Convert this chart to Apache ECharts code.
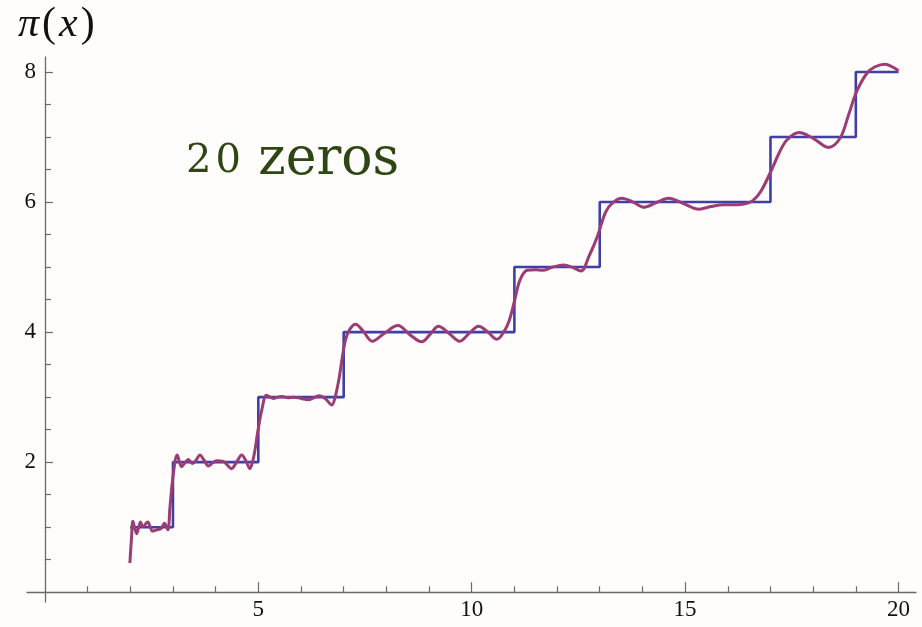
<!DOCTYPE html>
<html>
<head>
<meta charset="utf-8">
<script src="https://cdn.jsdelivr.net/npm/echarts@6/dist/echarts.min.js"></script>
<style>
html,body{margin:0;padding:0;background:#fefdfc;}
#chart{width:922px;height:627px;}
</style>
</head>
<body>
<div id="chart"></div>
<script>
// Step function pi(x): jump points (primes) and counts
const stepX = [2, 3, 5, 7, 11, 13, 17, 19, 20];
const stepY = [1, 2, 3, 4, 5, 6, 7, 8, 8];

// Smooth approximation with 20 zeros
const curveX = [1.99, 2.03, 2.06, 2.10, 2.15, 2.19, 2.24, 2.29, 2.33, 2.37, 2.41, 2.47, 2.52, 2.62, 2.72, 2.80, 2.88, 2.93, 3.01, 3.10,
  3.20, 3.28, 3.36, 3.46, 3.54, 3.63, 3.73, 3.83, 3.93, 4.02, 4.18, 4.28, 4.37, 4.49, 4.61, 4.71, 4.80, 4.87, 4.92, 4.97, 5.00, 5.08,
  5.19, 5.27, 5.35, 5.45, 5.55, 5.70, 5.82, 6.00, 6.17, 6.30, 6.43, 6.58, 6.72, 6.80, 6.89, 6.97, 7.05, 7.15, 7.28,
  7.45, 7.67, 7.95, 8.27, 8.55, 8.83, 9.03, 9.22, 9.47, 9.72, 9.94, 10.16, 10.38, 10.59, 10.75, 10.88, 11.01, 11.13, 11.30,
  11.50, 11.66, 11.90, 12.15, 12.35, 12.56, 12.75, 12.95, 13.14, 13.32, 13.52, 13.78, 14.04, 14.32, 14.61, 14.95, 15.33, 15.60,
  15.90, 16.25, 16.45, 16.60, 16.78, 17.03, 17.20, 17.38, 17.67, 18.00, 18.36, 18.63, 18.83, 19.02, 19.26, 19.45, 19.69, 19.85, 20.00];
const curveY = [0.45, 0.85, 1.09, 1.00, 0.90, 0.98, 1.08, 1.01, 1.02, 1.06, 1.08, 1.00, 0.94, 0.96, 0.98, 1.06, 0.96, 1.31, 1.83, 2.11,
  1.93, 1.99, 2.04, 1.98, 2.03, 2.11, 2.03, 1.94, 1.99, 2.02, 2.01, 1.95, 1.90, 2.00, 2.11, 2.02, 1.90, 2.02, 2.18, 2.40, 2.52, 2.80,
  3.03, 3.00, 2.98, 3.00, 3.01, 2.99, 3.00, 2.98, 2.96, 2.99, 3.02, 2.97, 2.88, 3.00, 3.28, 3.62, 3.90, 4.05, 4.12,
  4.02, 3.86, 3.98, 4.10, 3.96, 3.85, 3.97, 4.09, 3.98, 3.86, 3.98, 4.09, 4.00, 3.89, 4.00, 4.18, 4.50, 4.80, 4.95,
  4.96, 4.95, 5.00, 5.03, 5.00, 4.94, 5.17, 5.48, 5.85, 6.00, 6.06, 6.00, 5.92, 5.99, 6.06, 5.98, 5.89, 5.93,
  5.96, 5.96, 5.98, 6.03, 6.17, 6.50, 6.75, 6.95, 7.07, 6.98, 6.84, 6.98, 7.34, 7.70, 7.98, 8.08, 8.12, 8.08, 8.02];

const xMajor = [5, 10, 15, 20];
const xMinor = [1, 2, 3, 4, 6, 7, 8, 9, 11, 12, 13, 14, 16, 17, 18, 19];
const yMajor = [2, 4, 6, 8];
const yMinor = [0.5, 1, 1.5, 2.5, 3, 3.5, 4.5, 5, 5.5, 6.5, 7, 7.5];

const axisColor = '#6a6a6a';
const labelFont = 'Liberation Serif';

const chart = echarts.init(document.getElementById('chart'));
const stepData = stepX.map((x, i) => [x, stepY[i]]);
const curveData = curveX.map((x, i) => [x, curveY[i]]);

chart.setOption({
  backgroundColor: '#fefdfc',
  animation: false,
  grid: { left: 27, right: 6, top: 57, bottom: 25, containLabel: false, outerBoundsMode: 'none' },
  xAxis: [
    {
      type: 'value', min: -0.42, max: 20.41,
      axisLine: { show: true, onZero: true, onZeroAxisIndex: 0, lineStyle: { color: axisColor, width: 1.3 } },
      axisTick: { show: true, inside: true, length: 10, customValues: xMajor, lineStyle: { color: axisColor, width: 1.2 } },
      axisLabel: { show: true, customValues: xMajor, fontFamily: labelFont, fontSize: 23, color: '#111', margin: -4 },
      splitLine: { show: false }
    },
    {
      type: 'value', min: -0.42, max: 20.41, position: 'bottom',
      axisLine: { show: false, onZero: true, onZeroAxisIndex: 0 },
      axisTick: { show: true, inside: true, length: 6, customValues: xMinor, lineStyle: { color: axisColor, width: 1.2 } },
      axisLabel: { show: false },
      splitLine: { show: false }
    }
  ],
  yAxis: [
    {
      type: 'value', min: -0.15, max: 8.23,
      axisLine: { show: true, onZero: true, onZeroAxisIndex: 0, lineStyle: { color: axisColor, width: 1.3 } },
      axisTick: { show: true, inside: true, length: 8, customValues: yMajor, lineStyle: { color: axisColor, width: 1.2 } },
      axisLabel: { show: true, customValues: yMajor, fontFamily: labelFont, fontSize: 23, color: '#111', margin: -9 },
      splitLine: { show: false }
    },
    {
      type: 'value', min: -0.15, max: 8.23, position: 'left',
      axisLine: { show: false, onZero: true, onZeroAxisIndex: 0 },
      axisTick: { show: true, inside: true, length: 6, customValues: yMinor, lineStyle: { color: axisColor, width: 1.2 } },
      axisLabel: { show: false },
      splitLine: { show: false }
    }
  ],
  series: [
    {
      name: 'π(x)', type: 'line', step: 'end', data: stepData,
      xAxisIndex: 0, yAxisIndex: 0, showSymbol: false, symbol: 'none',
      lineStyle: { color: '#3f3fa6', width: 2.6 }, z: 2
    },
    {
      name: '20 zeros', type: 'line', smooth: 0.35, data: curveData,
      xAxisIndex: 0, yAxisIndex: 0, showSymbol: false, symbol: 'none',
      lineStyle: { color: '#9b3d74', width: 3 }, z: 3
    }
  ],
  graphic: [
    {
      type: 'text', left: 18, top: 4,
      style: {
        text: '{p|π}{b|(}{i|x}{b|)}',
        rich: {
          p: { fontFamily: labelFont, fontSize: 42, fontStyle: 'italic', fill: '#111', padding: [0, 3, 0, 0] },
          b: { fontFamily: labelFont, fontSize: 42, fill: '#111' },
          i: { fontFamily: labelFont, fontSize: 42, fontStyle: 'italic', fill: '#111', padding: [0, 3, 0, 3] }
        }
      }
    },
    {
      type: 'text', left: 186, top: 134,
      style: {
        text: '{n|2}{m|0} {w|zeros}',
        rich: {
          n: { fontFamily: 'DejaVu Serif', fontSize: 40, fill: '#2d4614', verticalAlign: 'bottom', padding: [0, 4, 4, 0] },
          m: { fontFamily: 'DejaVu Serif', fontSize: 40, fill: '#2d4614', verticalAlign: 'bottom', padding: [0, 14, 4, 0] },
          w: { fontFamily: 'DejaVu Serif', fontSize: 52, fill: '#2d4614', verticalAlign: 'bottom' }
        }
      }
    }
  ]
});
</script>
</body>
</html>
